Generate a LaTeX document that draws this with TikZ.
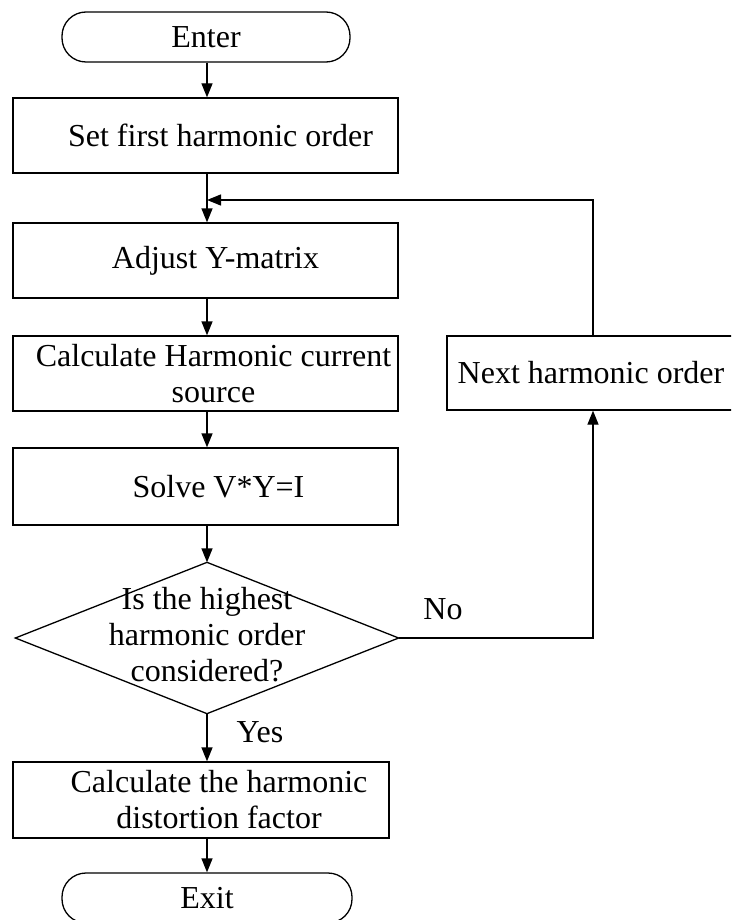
\documentclass[tikz,border=0pt]{standalone}
\usepackage{fontspec}
\setmainfont{Liberation Serif}
\usetikzlibrary{arrows.meta}
\begin{document}
\begin{tikzpicture}[x=1pt,y=-1pt,
  font=\fontsize{32}{36}\selectfont,
  line width=1.3pt,
  box/.style={draw, rectangle, inner sep=0pt, minimum width=385, minimum height=75},
  term/.style={draw, rectangle, rounded corners=24, inner sep=0pt, minimum width=288, minimum height=50},
  lbl/.style={align=center, inner sep=0pt},
  flow/.style={-{Triangle[length=14pt,width=11pt]}}]
\useasboundingbox (0,0) rectangle (731,920);
\clip (0,0) rectangle (731,920);

% main column
\node[term] (enter) at (206,37) {Enter};
\node[box, label={[lbl,xshift=15]center:Set first harmonic order}] (set) at (205.5,135.5) {};
\node[box, label={[lbl,xshift=10]center:Adjust Y-matrix}] (adj) at (205.5,260.5) {};
\node[box, label={[lbl,xshift=8]center:Calculate Harmonic current\\source}] (calc) at (205.5,373.5) {};
\node[box, minimum height=77, label={[lbl,xshift=13]center:Solve V*Y=I}] (solve) at (205.5,486.5) {};
\node[lbl, minimum width=382, minimum height=150] (dec) at (207,638) {};
\node[lbl] at (207,635) {Is the highest\\harmonic order\\considered?};
\draw (dec.north) -- (dec.east) -- (dec.south) -- (dec.west) -- cycle;
\node[box, minimum width=376, minimum height=76, label={[lbl,xshift=18]center:Calculate the harmonic\\distortion factor}] (dist) at (201,800) {};
\node[term, minimum width=290] (exit) at (207,898) {Exit};

% side branch
\node[box, minimum width=292, minimum height=74] (next) at (593,373) {};
\node[lbl] at (591,373) {Next harmonic order};

% loop return point
\coordinate (join) at (207,200);

% connectors
\draw[flow] (enter.south -| join) -- (set.north -| join);
\draw (set.south -| join) -- (join);
\draw[flow] (join) -- (adj.north -| join);
\draw[flow] (adj.south -| join) -- (calc.north -| join);
\draw[flow] (calc.south -| join) -- (solve.north -| join);
\draw[flow] (solve.south -| dec.north) -- (dec.north);
\draw[flow] (dec.south) -- (dist.north -| dec.south);
\draw[flow] (dist.south -| exit.north) -- (exit.north);
\draw[flow] (dec.east) -| (next.south);
\draw[flow] (next.north) |- (join);

% branch labels
\node[lbl] at (260,732) {Yes};
\node[lbl] at (443,609) {No};
\end{tikzpicture}
\end{document}
